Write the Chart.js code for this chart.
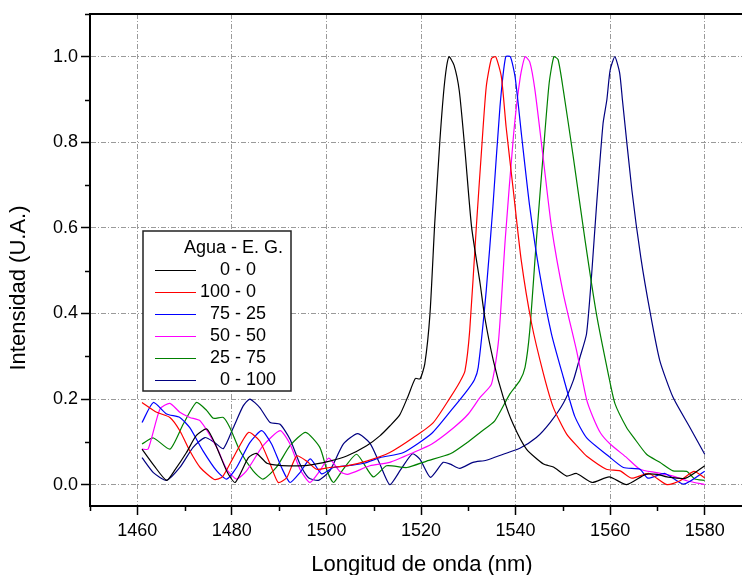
<!DOCTYPE html>
<html>
<head>
<meta charset="utf-8">
<script src="https://cdn.jsdelivr.net/npm/chart.js@4"></script>
<style>
    html, body { margin: 0; padding: 0; background: #fff; overflow: hidden; }
    #wrap { position: relative; width: 800px; height: 575px; }
</style>
</head>
<body>
<div id="wrap"><canvas id="myChart"></canvas></div>
<script>
// series names (Agua - E. G. mix)
const legendTitle = 'Agua - E. G.';
const seriesLabels = ['0 - 0', '100 - 0', '75 - 25', '50 - 50', '25 - 75', '0 - 100'];
const xTitle = 'Longitud de onda (nm)';
const yTitle = 'Intensidad (U.A.)';

const xTicks = [1460, 1480, 1500, 1520, 1540, 1560, 1580];
const yTicks = [0.0, 0.2, 0.4, 0.6, 0.8, 1.0];
const xMinor = [1450, 1470, 1490, 1510, 1530, 1550, 1570, 1590];
const yMinor = [0.1, 0.3, 0.5, 0.7, 0.9, 1.1];

// 0 - 0
const wl00 = [1461, 1463.5, 1466.2, 1468, 1470.4, 1472.5, 1474.7, 1476.8, 1478.9, 1480.7, 1483.5, 1485.2, 1487.4, 1490, 1493, 1496,
    1500.7, 1504.3, 1508.5, 1511.3, 1513.4, 1515.5, 1517.2, 1518.8, 1519.8, 1520.8, 1521.9, 1522.9, 1524, 1525, 1525.9, 1527,
    1528.1, 1529.3, 1530.7, 1532.5, 1533.5, 1535.3, 1537.4, 1539.5, 1542.3, 1545.9, 1548, 1550.8, 1552.9, 1556.2, 1559.8, 1563.5,
    1567.5, 1570, 1572, 1576, 1580];
const int00 = [0.083, 0.045, 0.010, 0.035, 0.075, 0.115, 0.130, 0.087, 0.032, 0.005, 0.063, 0.073, 0.050, 0.045, 0.044, 0.045,
    0.055, 0.067, 0.091, 0.114, 0.137, 0.163, 0.205, 0.248, 0.247, 0.282, 0.399, 0.61, 0.805, 0.941, 1.0, 0.98,
    0.92, 0.781, 0.602, 0.47, 0.39, 0.29, 0.204, 0.141, 0.083, 0.048, 0.041, 0.020, 0.026, 0.005, 0.018, 0.0,
    0.024, 0.024, 0.018, 0.015, 0.044];

// 100 - 0
const wl100 = [1461, 1464.1, 1466.9, 1469, 1471.1, 1473.3, 1476.3, 1478, 1480.3, 1483.5, 1485.9, 1488.1, 1489.8, 1491.6, 1493.7, 1495.8,
    1497.9, 1500.7, 1504.3, 1508.5, 1513.4, 1518.4, 1522.6, 1526.2, 1528.2, 1529.3, 1530.3, 1531.7, 1532.8, 1533.8, 1534.9, 1535.8,
    1537, 1538, 1539.5, 1541.2, 1543.4, 1545.9, 1548, 1550.8, 1553.6, 1555, 1559.2, 1562.1, 1564.6, 1568.2, 1572, 1574.8, 1577.7, 1580];
const int100 = [0.192, 0.169, 0.157, 0.126, 0.079, 0.040, 0.012, 0.018, 0.063, 0.122, 0.102, 0.048, 0.005, 0.016, 0.067, 0.055,
    0.036, 0.040, 0.044, 0.055, 0.075, 0.110, 0.145, 0.204, 0.240, 0.266, 0.36, 0.602, 0.781, 0.93, 0.996, 1.0,
    0.953, 0.836, 0.69, 0.524, 0.376, 0.259, 0.18, 0.118, 0.083, 0.067, 0.036, 0.032, 0.015, 0.026, 0.0, 0.009, 0.031, 0.016];

// 75 - 25
const wl75 = [1461, 1463.4, 1466.2, 1469, 1471.1, 1473.9, 1476.8, 1478.9, 1481, 1483.8, 1486.3, 1488.4, 1490.5, 1492.3, 1494.4, 1496.6,
    1499, 1501.5, 1505, 1508, 1511.3, 1516.3, 1522.3, 1526.5, 1529.7, 1531.3, 1532.1, 1533.8, 1535.2, 1536.7, 1537.9, 1538.9,
    1539.9, 1541.3, 1543, 1545.1, 1547.6, 1550.1, 1552.5, 1555, 1559.5, 1562.8, 1566.3, 1568, 1571.6, 1575.5, 1580];
const int75 = [0.145, 0.192, 0.165, 0.157, 0.133, 0.079, 0.032, 0.013, 0.040, 0.098, 0.126, 0.095, 0.040, 0.005, 0.028, 0.060,
    0.025, 0.04, 0.045, 0.05, 0.063, 0.075, 0.12, 0.175, 0.219, 0.245, 0.274, 0.454, 0.649, 0.883, 1.0, 1.0,
    0.953, 0.813, 0.649, 0.493, 0.352, 0.251, 0.16, 0.11, 0.068, 0.040, 0.036, 0.015, 0.026, 0.001, 0.031];

// 50 - 50
const wl50 = [1461, 1462.3, 1464.8, 1466.9, 1469, 1471.1, 1473.3, 1476.8, 1478.9, 1481, 1483.1, 1486.6, 1490.2, 1492.3, 1494.4, 1496.5,
    1498.6, 1500.5, 1502.9, 1504.5, 1509.2, 1513.4, 1518.4, 1522.3, 1526.9, 1530, 1532.5, 1534.9, 1536.4, 1537.8, 1539.6, 1541,
    1542, 1543, 1544.1, 1545.9, 1547.6, 1550.1, 1552.9, 1555, 1556.4, 1558, 1560, 1563.5, 1566.3, 1569.8, 1573.3, 1576.2, 1580];
const int50 = [0.083, 0.083, 0.177, 0.190, 0.169, 0.157, 0.149, 0.087, 0.036, 0.013, 0.032, 0.091, 0.126, 0.095, 0.036, 0.005,
    0.032, 0.062, 0.03, 0.024, 0.044, 0.052, 0.075, 0.095, 0.133, 0.165, 0.204, 0.235, 0.337, 0.571, 0.821, 0.953,
    1.0, 0.988, 0.922, 0.758, 0.602, 0.446, 0.313, 0.2, 0.157, 0.12, 0.095, 0.063, 0.036, 0.028, 0.020, 0.009, 0.0];

// 25 - 75
const wl25 = [1461, 1463.4, 1466.9, 1469.7, 1472.5, 1474.7, 1476.1, 1478.2, 1479.6, 1481.7, 1484.5, 1486.6, 1489.4, 1492.3, 1495.6, 1498.6,
    1500.2, 1501.5, 1503.5, 1506.4, 1509.9, 1512.7, 1517, 1521.2, 1526.2, 1529.7, 1532.5, 1535.6, 1538.8, 1540.9, 1542, 1543,
    1544.4, 1545.9, 1547.1, 1548.1, 1549, 1550.1, 1552.2, 1554.7, 1557.1, 1559.6, 1561, 1563.5, 1565, 1567.7, 1570.5, 1573.3,
    1576.2, 1577.9, 1580];
const int25 = [0.095, 0.109, 0.083, 0.141, 0.192, 0.173, 0.155, 0.157, 0.133, 0.079, 0.032, 0.013, 0.040, 0.091, 0.122, 0.087,
    0.03, 0.005, 0.035, 0.071, 0.018, 0.044, 0.040, 0.055, 0.072, 0.098, 0.122, 0.149, 0.212, 0.243, 0.274, 0.36,
    0.571, 0.781, 0.938, 1.0, 0.993, 0.922, 0.766, 0.571, 0.399, 0.259, 0.19, 0.133, 0.11, 0.071, 0.052, 0.032,
    0.031, 0.013, 0.010];

// 0 - 100
const wl0100 = [1461, 1463.4, 1466.2, 1469, 1471.8, 1474.3, 1476.4, 1478.2, 1480.3, 1482.4, 1483.8, 1485.9, 1488.1, 1490.2, 1492.3, 1494.4,
    1496.2, 1498.3, 1500.7, 1503.6, 1506.6, 1509.2, 1511.3, 1513.4, 1515.7, 1518.2, 1519.8, 1522, 1524.7, 1526.2, 1528.2, 1531,
    1533.8, 1537.4, 1540.9, 1544.4, 1547.3, 1550.1, 1552.2, 1553.6, 1555, 1556.1, 1557.1, 1558.5, 1559.3, 1560, 1561, 1562,
    1562.6, 1564.6, 1566.5, 1568.5, 1570.5, 1573.3, 1576.9, 1580];
const int0100 = [0.063, 0.028, 0.010, 0.040, 0.087, 0.110, 0.098, 0.084, 0.133, 0.184, 0.200, 0.180, 0.145, 0.141, 0.106, 0.048,
    0.016, 0.010, 0.032, 0.095, 0.119, 0.097, 0.048, 0.0, 0.035, 0.072, 0.059, 0.017, 0.052, 0.048, 0.038, 0.052,
    0.057, 0.071, 0.085, 0.110, 0.145, 0.19, 0.243, 0.297, 0.352, 0.493, 0.649, 0.844, 0.899, 0.969, 1.0, 0.963,
    0.899, 0.688, 0.53, 0.4, 0.29, 0.204, 0.133, 0.071];

const allWl = [wl00, wl100, wl75, wl50, wl25, wl0100];
const allInt = [int00, int100, int75, int50, int25, int0100];
const lineColors = ['#000000', '#ff0000', '#0000ff', '#ff00ff', '#008000', '#000080'];

const FONT = '"Liberation Sans", Arial, sans-serif';

function makePoints(xs, ys) {
    return xs.map((x, i) => ({ x: x, y: ys[i] }));
}

const datasets = seriesLabels.map((lbl, i) => ({
    label: lbl,
    data: makePoints(allWl[i], allInt[i]),
    borderColor: lineColors[i],
    borderWidth: 1.2,
    pointRadius: 0,
    tension: 0.2,
    fill: false
}));

// minor ticks, top frame line, axis titles and boxed legend
const extrasPlugin = {
    id: 'extras',
    afterDraw(chart) {
        const ctx = chart.ctx;
        const area = chart.chartArea;
        const xs = chart.scales.x, ys = chart.scales.y;
        ctx.save();
        ctx.strokeStyle = '#000';
        ctx.lineWidth = 2;
        ctx.beginPath();
        ctx.moveTo(area.left - 1, area.top);
        ctx.lineTo(area.right, area.top);
        ctx.stroke();

        ctx.lineWidth = 1.5;
        xMinor.forEach(v => {
            const px = Math.round(xs.getPixelForValue(v)) + 0.5;
            ctx.beginPath();
            ctx.moveTo(px, area.bottom);
            ctx.lineTo(px, area.bottom + 5);
            ctx.stroke();
        });
        yMinor.forEach(v => {
            const py = Math.round(ys.getPixelForValue(v)) + 0.5;
            ctx.beginPath();
            ctx.moveTo(area.left, py);
            ctx.lineTo(area.left - 5, py);
            ctx.stroke();
        });

        // axis titles
        ctx.font = '22px ' + FONT;
        ctx.fillStyle = '#000';
        ctx.textAlign = 'center';
        ctx.textBaseline = 'alphabetic';
        ctx.fillText(xTitle, 422, 571);

        ctx.save();
        ctx.translate(19, 288);
        ctx.rotate(-Math.PI / 2);
        ctx.textBaseline = 'middle';
        ctx.fillText(yTitle, 0, 0);
        ctx.restore();

        // legend box
        const bx = 143, by = 231, bw = 148, bh = 160;
        ctx.fillStyle = '#fff';
        ctx.fillRect(bx, by, bw, bh);
        ctx.strokeStyle = '#222';
        ctx.lineWidth = 1.5;
        ctx.strokeRect(bx, by, bw, bh);

        ctx.font = '18px ' + FONT;
        ctx.fillStyle = '#000';
        ctx.textBaseline = 'middle';
        ctx.textAlign = 'left';
        ctx.fillText(legendTitle, 184, 248);
        const digitW = ctx.measureText('0').width;
        chart.data.datasets.forEach((ds, i) => {
            const y = 270.5 + i * 22;
            ctx.strokeStyle = ds.borderColor;
            ctx.lineWidth = 1.2;
            ctx.beginPath();
            ctx.moveTo(155, y);
            ctx.lineTo(196, y);
            ctx.stroke();
            const left = ds.label.split(' - ')[0];
            const off = (3 - left.length) * digitW;
            ctx.fillStyle = '#000';
            ctx.fillText(ds.label, 200 + off, y);
        });
        ctx.restore();
    }
};

const gridDash = [5, 2, 1, 2];

new Chart(document.getElementById('myChart'), {
    type: 'line',
    data: { datasets: datasets },
    options: {
        responsive: true,
        maintainAspectRatio: false,
        animation: false,
        events: [],
        layout: { padding: { left: 0, top: 14, right: 48, bottom: 0 } },
        plugins: {
            legend: { display: false },
            tooltip: { enabled: false }
        },
        scales: {
            x: {
                type: 'linear',
                min: 1450,
                max: 1590,
                afterFit: s => { s.height = 69; },
                afterBuildTicks: s => { s.ticks = xTicks.map(v => ({ value: v })); },
                ticks: {
                    color: '#000',
                    font: { family: FONT, size: 18 },
                    padding: 5,
                    maxRotation: 0,
                    autoSkip: false,
                    callback: v => String(v)
                },
                grid: {
                    color: '#9a9a9a',
                    lineWidth: 1,
                    tickColor: '#000',
                    tickWidth: 1.5,
                    tickLength: 9
                },
                border: { display: true, color: '#000', width: 2, dash: gridDash },
                title: { display: false }
            },
            y: {
                type: 'linear',
                min: -0.05,
                max: 1.1,
                afterFit: s => { s.width = 90; },
                afterBuildTicks: s => { s.ticks = yTicks.map(v => ({ value: v })); },
                ticks: {
                    color: '#000',
                    font: { family: FONT, size: 18 },
                    padding: 3,
                    callback: v => v.toFixed(1)
                },
                grid: {
                    color: '#9a9a9a',
                    lineWidth: 1,
                    tickColor: '#000',
                    tickWidth: 1.5,
                    tickLength: 9
                },
                border: { display: true, color: '#000', width: 2, dash: gridDash },
                title: { display: false }
            }
        }
    },
    plugins: [extrasPlugin]
});
</script>
</body>
</html>
